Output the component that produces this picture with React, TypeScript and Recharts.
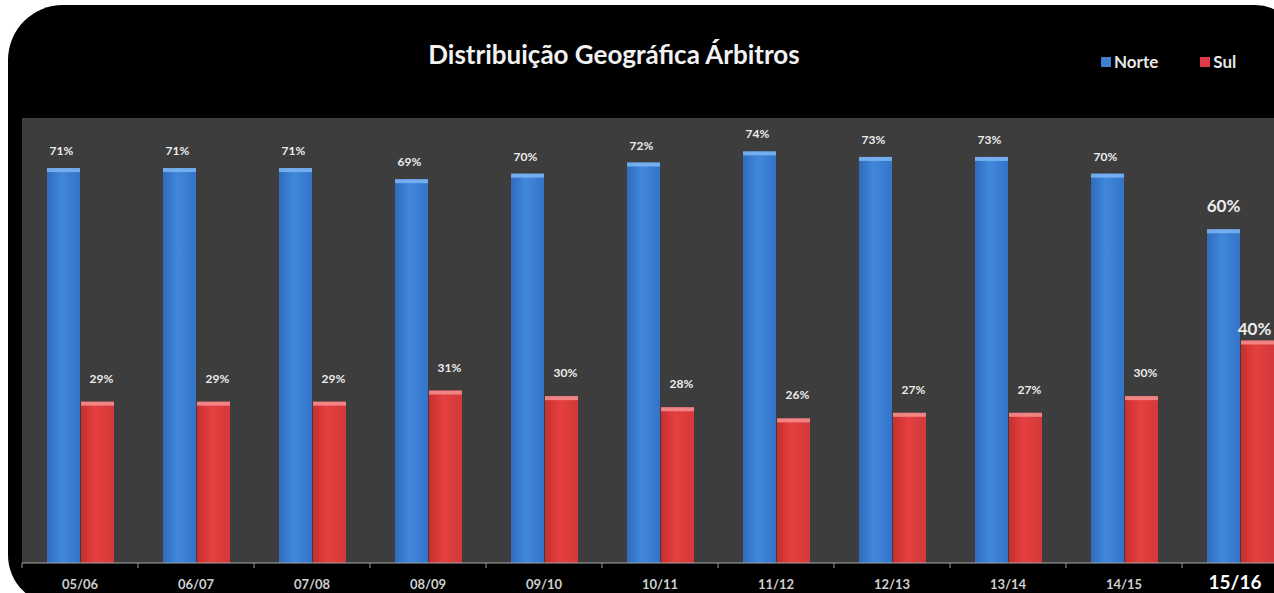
import React from 'react';
import { BarChart, Bar, XAxis, YAxis, CartesianGrid, Legend, LabelList } from 'recharts';

const categories = ['05/06', '06/07', '07/08', '08/09', '09/10', '10/11', '11/12', '12/13', '13/14', '14/15', '15/16'];
const norteValues = [71, 71, 71, 69, 70, 72, 74, 73, 73, 70, 60];
const sulValues = [29, 29, 29, 31, 30, 28, 26, 27, 27, 30, 40];
const seriesNames = ['Norte', 'Sul'];
const highlightCategory = '15/16';

const data = categories.map((c, i) => ({ season: c, norte: norteValues[i], sul: sulValues[i] }));

const FONT = 'Lato, "Open Sans", sans-serif';
const CHART_W = 1300;
const MARGIN_L = 22;
const MARGIN_R = 2;
const BAND = (CHART_W - MARGIN_L - MARGIN_R) / categories.length;

const BarShape = (props: any) => {
  const { x, y, width, height, gradId, cap } = props;
  if (height <= 0) return null;
  return (
    <g>
      <rect x={x} y={y} width={width} height={height} fill={`url(#${gradId})`} />
      <rect x={x} y={y} width={width} height={4} fill={cap} opacity={0.85} />
    </g>
  );
};

const makeLabel = (series: 'norte' | 'sul') => (props: any) => {
  const { x, y, width, value, index } = props;
  const last = categories[index] === highlightCategory;
  let tx = x + width / 2;
  let ty = y;
  if (last) {
    ty = series === 'norte' ? y - 17 : y - 6;
    if (series === 'sul') tx -= 3;
  } else if (series === 'norte') {
    tx -= 2;
    ty = y - 13;
  } else {
    tx += 4;
    ty = y - 19;
  }
  return (
    <text
      x={tx}
      y={ty}
      textAnchor="middle"
      fill="#ececec"
      fontFamily={FONT}
      fontWeight={700}
      fontSize={last ? 17 : 12}
    >
      {`${value}%`}
    </text>
  );
};

const AxisTick = (props: any) => {
  const { x, y, payload } = props;
  const last = payload.value === highlightCategory;
  return (
    <g>
      <line x1={x - BAND / 2} x2={x - BAND / 2} y1={y - 8} y2={y - 3} stroke="#9a9a9a" strokeWidth={1} />
      <text
        x={last ? x - 5 : x}
        y={last ? y + 18 : y + 18}
        textAnchor="middle"
        fill={last ? '#ffffff' : '#cfcfcf'}
        fontFamily={FONT}
        fontWeight={700}
        fontSize={last ? 19 : 13}
      >
        {payload.value}
      </text>
    </g>
  );
};

const legendColors = ['#3f7fd0', '#e03a48'];

const LegendContent = () => (
  <div style={{ display: 'flex', alignItems: 'center', fontFamily: FONT, fontWeight: 700, fontSize: 17, color: '#e8e8e8', whiteSpace: 'nowrap' }}>
    {seriesNames.map((n, i) => (
      <div key={n} style={{ display: 'flex', alignItems: 'center', marginRight: i === 0 ? 42 : 0 }}>
        <span style={{ display: 'inline-block', width: 10, height: 10, background: legendColors[i], marginRight: 3 }} />
        <span>{n}</span>
      </div>
    ))}
  </div>
);

export default function App() {
  return (
    <div style={{ position: 'absolute', left: 0, top: 0, width: 1274, height: 593, overflow: 'hidden', background: '#ffffff' }}>
      <div
        style={{
          position: 'absolute',
          left: 8,
          top: 5,
          width: 1292,
          height: 600,
          background: '#000000',
          borderRadius: '55px 45px 0 50px',
        }}
      />
      <div
        style={{
          position: 'absolute',
          left: 364,
          top: 39,
          width: 500,
          textAlign: 'center',
          fontFamily: FONT,
          fontWeight: 700,
          fontSize: 26,
          lineHeight: '30px',
          color: '#f2f2f2',
        }}
      >
        Distribuição Geográfica Árbitros
      </div>
      <div style={{ position: 'absolute', left: 0, top: 0 }}>
        <BarChart
          width={CHART_W}
          height={593}
          data={data}
          margin={{ top: 118, right: MARGIN_R, bottom: 0, left: MARGIN_L }}
          barCategoryGap={25}
          barGap={1}
        >
          <defs>
            <linearGradient id="gradBlue" x1="0" y1="0" x2="1" y2="0">
              <stop offset="0%" stopColor="#2f6bbd" />
              <stop offset="45%" stopColor="#4088dc" />
              <stop offset="100%" stopColor="#3373c8" />
            </linearGradient>
            <linearGradient id="gradRed" x1="0" y1="0" x2="1" y2="0">
              <stop offset="0%" stopColor="#c92e30" />
              <stop offset="45%" stopColor="#e4403f" />
              <stop offset="100%" stopColor="#d3383a" />
            </linearGradient>
          </defs>
          <CartesianGrid fill="#3d3d3d" stroke="none" horizontal={false} vertical={false} />
          <XAxis
            dataKey="season"
            height={30}
            axisLine={{ stroke: '#a8a8a8', strokeWidth: 1 }}
            tickLine={false}
            tick={<AxisTick />}
            interval={0}
          />
          <YAxis hide domain={[0, 80]} />
          <Legend
            content={<LegendContent />}
            wrapperStyle={{ position: 'absolute', left: 1101, top: 51, width: 180, height: 0, overflow: 'visible' }}
          />
          <Bar
            dataKey="norte"
            name="Norte"
            isAnimationActive={false}
            shape={(p: any) => <BarShape {...p} gradId="gradBlue" cap="#7fb6f2" />}
          >
            <LabelList dataKey="norte" content={makeLabel('norte')} />
          </Bar>
          <Bar
            dataKey="sul"
            name="Sul"
            isAnimationActive={false}
            shape={(p: any) => <BarShape {...p} gradId="gradRed" cap="#f59090" />}
          >
            <LabelList dataKey="sul" content={makeLabel('sul')} />
          </Bar>
        </BarChart>
      </div>
    </div>
  );
}
